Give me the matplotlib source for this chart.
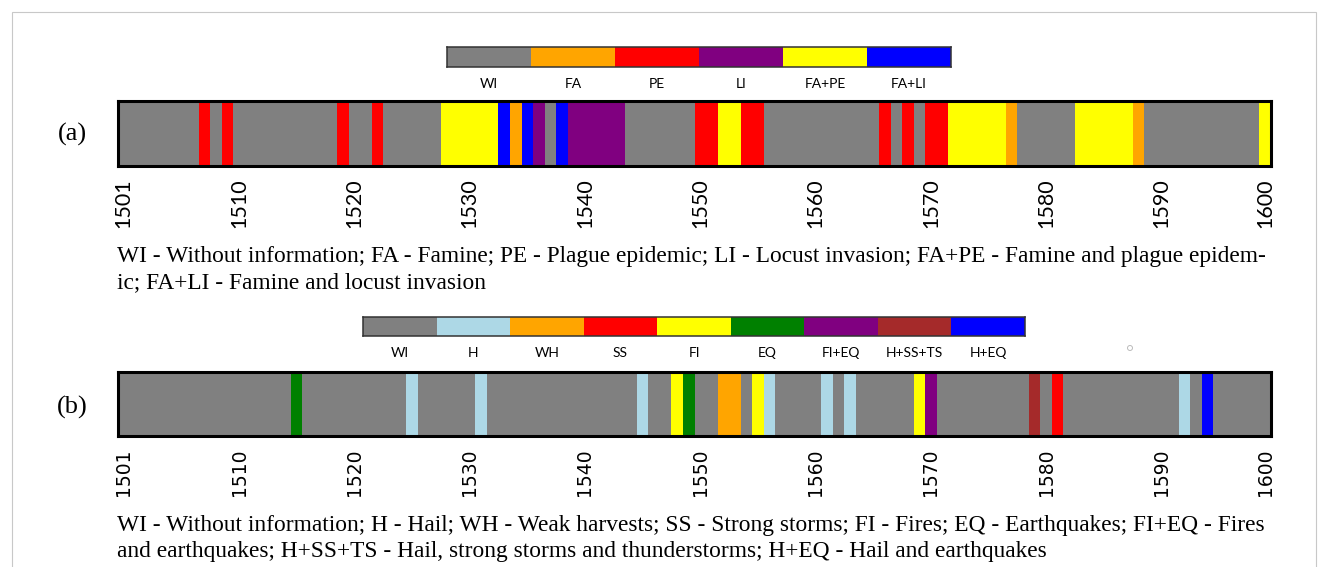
import matplotlib
matplotlib.use('Agg')
import matplotlib.pyplot as plt
from matplotlib.patches import Rectangle, Ellipse

W, H = 1328, 567

# (a) famine, plague, locusts
a_cats = ['WI', 'FA', 'PE', 'LI', 'FA+PE', 'FA+LI']
a_colors = ['gray', 'orange', 'red', 'purple', 'yellow', 'blue']
a_start = [1508, 1510, 1520, 1523, 1529, 1534, 1535, 1536, 1537, 1539, 1540,
           1551, 1553, 1555, 1567, 1569, 1571, 1573, 1578, 1584, 1589, 1600]
a_years = [1, 1, 1, 1, 5, 1, 1, 1, 1, 1, 5, 2, 2, 2, 1, 1, 2, 5, 1, 5, 1, 1]
a_event = ['PE', 'PE', 'PE', 'PE', 'FA+PE', 'FA+LI', 'FA', 'FA+LI', 'LI', 'FA+LI', 'LI',
           'PE', 'FA+PE', 'PE', 'PE', 'PE', 'PE', 'FA+PE', 'FA', 'FA+PE', 'FA', 'FA+PE']

# (b) weather and other events
b_cats = ['WI', 'H', 'WH', 'SS', 'FI', 'EQ', 'FI+EQ', 'H+SS+TS', 'H+EQ']
b_colors = ['gray', 'lightblue', 'orange', 'red', 'yellow', 'green', 'purple', 'brown', 'blue']
b_start = [1516, 1526, 1532, 1546, 1549, 1550, 1553, 1556, 1557, 1562, 1564,
           1570, 1571, 1580, 1582, 1593, 1595]
b_years = [1, 1, 1, 1, 1, 1, 2, 1, 1, 1, 1, 1, 1, 1, 1, 1, 1]
b_event = ['EQ', 'H', 'H', 'H', 'FI', 'EQ', 'WH', 'FI', 'H', 'H', 'H',
           'FI', 'FI+EQ', 'H+SS+TS', 'SS', 'H', 'H+EQ']

first_year, last_year = 1501, 1600
tick_labels = ['1501', '1510', '1520', '1530', '1540', '1550',
               '1560', '1570', '1580', '1590', '1600']

cap_a = ['WI - Without information; FA - Famine; PE - Plague epidemic; LI - Locust invasion; '
         'FA+PE - Famine and plague epidem-',
         'ic; FA+LI - Famine and locust invasion']
cap_b = ['WI - Without information; H - Hail; WH - Weak harvests; SS - Strong storms; '
         'FI - Fires; EQ - Earthquakes; FI+EQ - Fires',
         'and earthquakes; H+SS+TS - Hail, strong storms and thunderstorms; '
         'H+EQ - Hail and earthquakes']

fig = plt.figure(figsize=(W / 100, H / 100), dpi=100)
fig.add_artist(Rectangle((12 / W, -0.1), 1304 / W, 1.1 - 12 / H, transform=fig.transFigure,
                         fill=False, edgecolor='#c8c8c8', linewidth=0.8))


def px_axes(x0, y0, x1, y1):
    return fig.add_axes([x0 / W, 1 - y1 / H, (x1 - x0) / W, (y1 - y0) / H])


def legend_bar(box, cats, colors):
    lax = px_axes(*box)
    n = len(cats)
    lax.barh(0, 1, left=range(n), height=1, color=colors)
    lax.set_xlim(0, n)
    lax.set_ylim(-0.5, 0.5)
    lax.set_yticks([])
    lax.set_xticks([i + 0.5 for i in range(n)], cats, fontsize=10, family='Lato')
    lax.tick_params(length=0, pad=8)
    for sp in lax.spines.values():
        sp.set_linewidth(1.1)
        sp.set_color('#333333')


def timeline(box, starts, years, events, cats, colors, tick_font, tick_size):
    ax = px_axes(*box)
    col = dict(zip(cats, colors))
    ax.barh(0, last_year - first_year + 1, left=first_year, height=1, color=col['WI'])
    ax.barh(0, years, left=starts, height=1, color=[col[e] for e in events])
    ax.set_xlim(first_year, last_year + 1)
    ax.set_ylim(-0.5, 0.5)
    ax.set_yticks([])
    pos = [first_year + 0.5 + 10 * k for k in range(10)] + [last_year + 0.5]
    ax.set_xticks(pos, tick_labels, rotation=90, fontsize=tick_size, family=tick_font)
    ax.tick_params(length=0, pad=9)
    for sp in ax.spines.values():
        sp.set_linewidth(2.2)
        sp.set_color('black')
    return ax


def fit_size(s, width_px, family, base=14):
    t = fig.text(0, 0, s, fontsize=base, family=family)
    w = t.get_window_extent(renderer=fig.canvas.get_renderer()).width
    t.remove()
    return base * width_px / w


legend_bar((447, 47, 951, 67), a_cats, a_colors)
timeline((118, 100.5, 1271, 165.5), a_start, a_years, a_event, a_cats, a_colors, 'Lato', 15.5)
fig.text(72 / W, 1 - 134 / H, '(a)', ha='center', va='center', fontsize=19, family='Liberation Serif')

legend_bar((363, 317, 1025, 336), b_cats, b_colors)
timeline((118, 371.5, 1271, 435.5), b_start, b_years, b_event, b_cats, b_colors, 'DejaVu Sans', 13.5)
fig.text(72 / W, 1 - 407 / H, '(b)', ha='center', va='center', fontsize=19, family='Liberation Serif')
fig.add_artist(Ellipse((1130 / W, 1 - 348 / H), 5 / W, 5 / H, transform=fig.transFigure,
                       fill=False, edgecolor='#bbbbbb', linewidth=0.7))

fs = fit_size(cap_a[0], 1155, 'Liberation Serif')
fig.text(117 / W, 1 - 257 / H, cap_a[0], va='center', fontsize=fs, family='Liberation Serif')
fig.text(117 / W, 1 - 283 / H, cap_a[1], va='center', fontsize=fs, family='Liberation Serif')

fs = fit_size(cap_b[0], 1155, 'Liberation Serif')
fig.text(117 / W, 1 - 526 / H, cap_b[0], va='center', fontsize=fs, family='Liberation Serif')
fig.text(117 / W, 1 - 551 / H, cap_b[1], va='center', fontsize=fs, family='Liberation Serif')

fig.savefig('out.png', dpi=100)
